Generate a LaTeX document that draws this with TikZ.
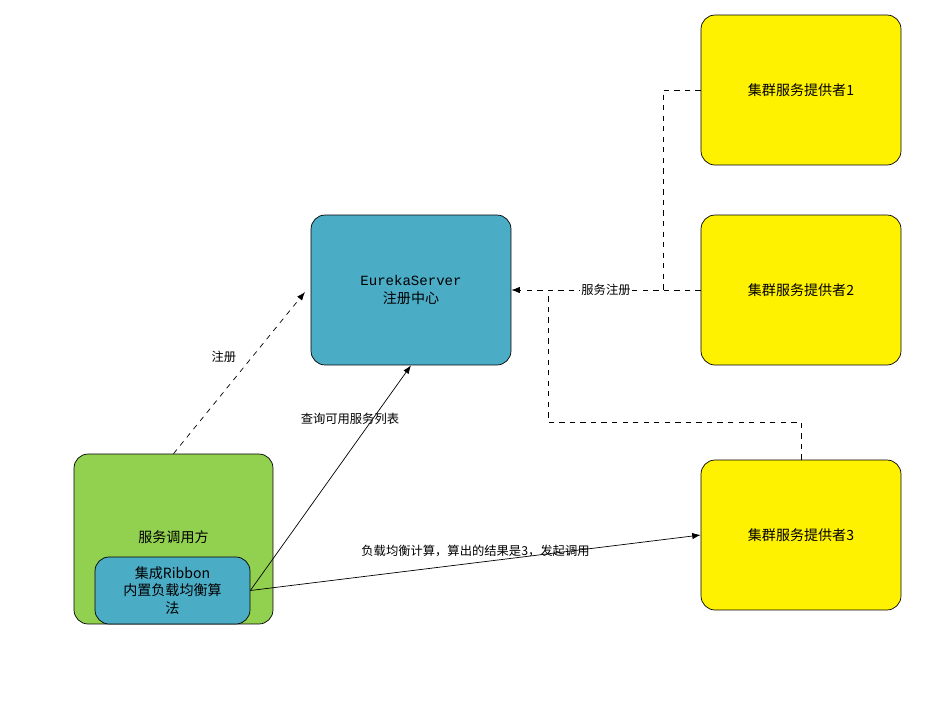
\documentclass[tikz,border=0pt]{standalone}
\usepackage{fontspec}
\setmainfont{Liberation Serif}
\newfontfamily\cjk{Noto Sans CJK SC}
\usetikzlibrary{arrows.meta}
\tikzset{>=Latex,
  box/.style={draw, rounded corners=8pt, minimum width=4cm, minimum height=3cm, align=center, font=\cjk\fontsize{8}{10}\selectfont},
  lbl/.style={fill=white, inner sep=1pt, font=\cjk\fontsize{7}{8}\selectfont}}
\definecolor{teal}{HTML}{4BACC6}
\definecolor{lgreen}{HTML}{92D050}
\begin{document}
\begin{tikzpicture}[x=0.02cm,y=-0.02cm]
\useasboundingbox (0,0) rectangle (933,721);
\node[box, fill=teal] (eureka) at (411,290) {{\ttfamily\fontspec{Liberation Mono}EurekaServer}\\注册中心};
\node[box, fill=yellow] (p1) at (801,90) {集群服务提供者1};
\node[box, fill=yellow] (p2) at (801,290) {集群服务提供者2};
\node[box, fill=yellow] (p3) at (801,535) {集群服务提供者3};
\node[box, fill=lgreen, minimum width=3.98cm, minimum height=3.4cm] (consumer) at (173.5,539) {};
\node[font=\cjk\fontsize{8}{10}\selectfont] (ctext) at (173.5,537) {服务调用方};
\node[box, fill=teal, minimum width=3.1cm, minimum height=1.34cm, inner sep=1pt] (ribbon) at (172.5,590.5) {集成Ribbon\\内置负载均衡算\\法};
\coordinate (c1) at (663,90);
\coordinate (c3a) at (801,422);
\coordinate (c3b) at (548,422);
\coordinate (c3c) at (548,290);
\draw[dashed,->] (consumer.north) -- node[lbl, pos=0.6, left=8pt, fill=none] {注册} (305,292);
\draw[->] (ribbon.east) -- node[lbl, pos=0.62, above=14pt, fill=none] {查询可用服务列表} (eureka.south);
\draw[->] (ribbon.east) -- node[lbl, pos=0.5, above=2pt, fill=none] {负载均衡计算，算出的结果是3，发起调用} (p3.west);
\draw[dashed,->] (p2.west) -- node[lbl, pos=0.5] {服务注册} (eureka.east);
\draw[dashed] (p1.west) -- (c1) -- (663,290);
\draw[dashed] (p3.north) -- (c3a) -- (c3b) -- (c3c);
\end{tikzpicture}
\end{document}
